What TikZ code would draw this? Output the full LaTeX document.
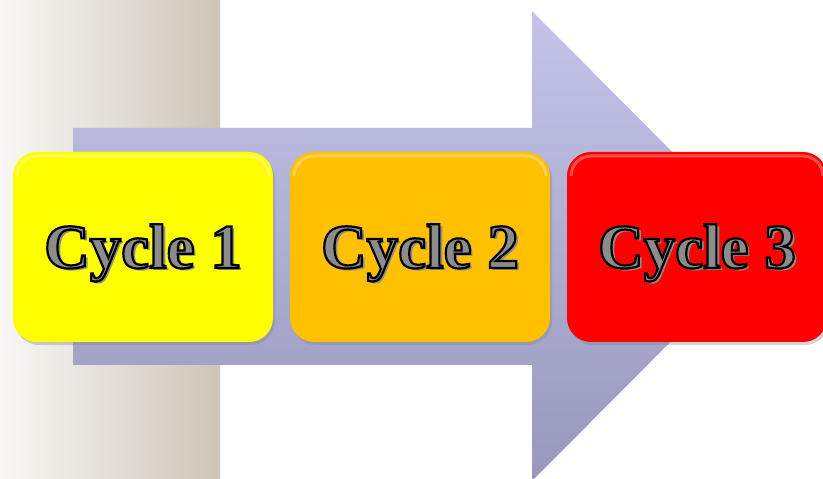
\documentclass[tikz,border=0pt]{standalone}
\usepackage{fontspec}
\setmainfont{Liberation Serif}
\usetikzlibrary{shadows}
\definecolor{stripL}{HTML}{F9F8F6}
\definecolor{stripR}{HTML}{CDC5B8}
\definecolor{arrowT}{HTML}{C4C4EA}
\definecolor{arrowB}{HTML}{9898BC}
\definecolor{cycyellow}{HTML}{FFFF00}
\definecolor{cycorange}{HTML}{FFC000}
\definecolor{cycred}{HTML}{FF0000}
\definecolor{cycgray}{HTML}{8C8C8C}
\tikzstyle{cyclebox} = [rounded corners=24pt,minimum width=260pt,minimum height=190pt,inner sep=0pt,
  text height=42pt,text depth=0pt,
  drop shadow={opacity=0.35,shadow xshift=2pt,shadow yshift=-3pt},
  path picture={\draw [white,opacity=0.3,line width=3pt,rounded corners=20pt]
    ([shift={(4pt,-22pt)}]path picture bounding box.north west)
    |- ([shift={(-4pt,-4pt)}]path picture bounding box.north east) -- ++(0,-18pt);},
  font=\bfseries\fontsize{63}{63}\selectfont]
% outlined gray text with a soft shadow
\newcommand{\cyctext}[1]{\rlap{\hspace{3pt}\raisebox{-3pt}{\textcolor{black!45}{#1}}}%
  \textcolor{cycgray}{\special{pdf:literal direct 0 0 0 RG 2.2 w 2 Tr}#1\special{pdf:literal direct 0 Tr}}}

\begin{document}
\begin{tikzpicture}[x=1pt,y=1pt]
    \useasboundingbox (0,0) rectangle (823,479);

    % background strip
    \shade [left color=stripL,right color=stripR] (0,0) rectangle (220,479);

    % big arrow
    \shade [top color=arrowT,bottom color=arrowB]
      (73,114) -- (73,351) -- (532,351) -- (532,468) -- (766,233) -- (532,-2) -- (532,114) -- cycle;

    % cycles
    \node [cyclebox,fill=cycyellow] (c1) at (143,232) {\cyctext{Cycle 1}};
    \node [cyclebox,fill=cycorange] (c2) at (420,232) {\cyctext{Cycle 2}};
    \node [cyclebox,fill=cycred] (c3) at (697,232) {\cyctext{Cycle 3}};
  \end{tikzpicture}
\end{document}
